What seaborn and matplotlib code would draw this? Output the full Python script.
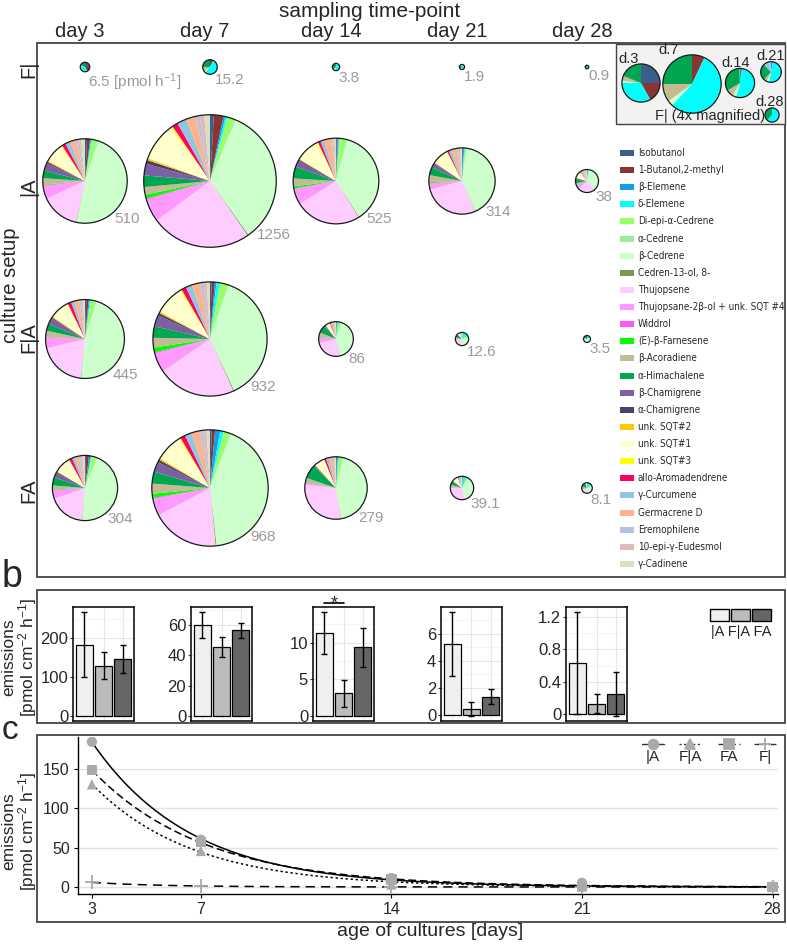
import numpy as np
import pandas as pd
import matplotlib.pyplot as plt
import matplotlib.patches as mpatches
from matplotlib import font_manager as fm
from matplotlib.ticker import FuncFormatter, AutoMinorLocator
import seaborn as sns

# ── DATA ──────────────────────────────────────────────────
days = [3, 7, 14, 21, 28]
setups = ["|A", "F|A", "FA"]
row_names = ["F|", "|A", "F|A", "FA"]

compounds = ["Isobutanol", "1-Butanol,2-methyl", "β-Elemene", "δ-Elemene",
             "Di-epi-α-Cedrene", "α-Cedrene", "β-Cedrene", "Cedren-13-ol, 8-",
             "Thujopsene", "Thujopsane-2β-ol + unk. SQT #4", "Widdrol",
             "(E)-β-Farnesene", "β-Acoradiene", "α-Himachalene", "β-Chamigrene",
             "α-Chamigrene", "unk. SQT#2", "unk. SQT#1", "unk. SQT#3",
             "allo-Aromadendrene", "γ-Curcumene", "Germacrene D", "Eremophilene",
             "10-epi-γ-Eudesmol", "γ-Cadinene"]
compound_colors = ["#3B5E8C", "#8B3434", "#12A0E8", "#00FFFF", "#99FF66",
                   "#99EE99", "#CCFFCC", "#7A9A4C", "#FFCCFF", "#FF99FF",
                   "#FF55FF", "#00FF00", "#C4BA94", "#00A650", "#7E5FA3",
                   "#4F3F6E", "#FFC800", "#FFFFCC", "#FFFF00", "#FF0066",
                   "#92C5DE", "#FFB38A", "#B3C3E3", "#E3B8B8", "#D3E2C0"]

# total emission per culture [pmol h-1] (pie size)
total_F = [6.5, 15.2, 3.8, 1.9, 0.9]
total_A = [510, 1256, 525, 314, 38]
total_FlA = [445, 932, 86, 12.6, 3.5]
total_FA = [304, 968, 279, 39.1, 8.1]

# composition (% of total, legend order), one list per day
comp_F = [
    [25, 17, 0, 33, 0, 0, 2, 0, 0, 0, 0, 0, 4, 19, 0, 0, 0, 0, 0, 0, 0, 0, 0, 0, 0],
    [0, 7, 0, 55, 0, 0, 3, 0, 0, 0, 0, 0, 10, 25, 0, 0, 0, 0, 0, 0, 0, 0, 0, 0, 0],
    [0.5, 1, 1, 52, 0, 0, 4, 0, 0, 0, 0, 0, 8, 33, 0, 0, 0, 0, 0, 0, 0.5, 0, 0, 0, 0],
    [0, 0, 3, 50, 0, 0, 4, 0, 0, 0, 0, 0, 5, 26, 0, 0, 0, 0, 0, 0, 8, 0, 4, 0, 0],
    [0, 0, 0, 62, 0, 0, 0, 0, 0, 0, 0, 0, 0, 38, 0, 0, 0, 0, 0, 0, 0, 0, 0, 0, 0],
]
comp_A = [
    [0.8, 1.2, 0.4, 0.4, 2, 0.5, 49, 0.2, 15, 5, 0.3, 0.3, 2.5, 3, 3, 0.6, 0.5, 7.5, 0.5, 1.5, 2, 2.5, 1, 0.8, 1.5],
    [1, 2.5, 0.5, 0.5, 2, 0.3, 36, 0.3, 26, 6, 0.3, 1, 2, 3, 3, 1, 0.5, 10, 0.5, 1.5, 2.5, 2.5, 1, 1.2, 1.5],
    [0.3, 0.3, 0.5, 0.3, 2.5, 0.5, 37, 0.3, 25, 6, 0.3, 0.8, 3, 4.5, 2.5, 0.5, 0.3, 9, 0.5, 1, 1.5, 3, 0.5, 0.5, 0.5],
    [0.3, 0.3, 0.5, 0.5, 0.5, 0.3, 42, 0.2, 28, 3, 0.2, 0.5, 3.5, 4, 2, 0.5, 0.3, 8, 0.3, 0.8, 1.5, 2.5, 0.8, 1, 1],
    [0.5, 0.5, 0.5, 1, 1, 0.5, 35, 0.3, 25, 5, 0.3, 0.5, 3, 5, 2, 0.5, 0.3, 10, 0.3, 1, 2, 3, 1, 1.5, 2],
]
comp_FlA = [
    [0.5, 1, 0.5, 0.5, 2, 0.5, 48, 0.2, 20, 4.5, 0.2, 0.2, 2.5, 3, 2.5, 0.5, 0.5, 8, 0.3, 1.5, 1.5, 2, 0.8, 0.8, 0.8],
    [0.5, 1, 0.5, 1, 2.5, 0.3, 41, 0.3, 24, 6, 0.3, 1.5, 3, 3.5, 3.5, 0.8, 0.5, 9, 0.5, 1.5, 2, 2.5, 1, 1, 1],
    [0.3, 0.3, 0.5, 1, 3, 0.5, 40, 0.3, 25, 5, 0.3, 0.5, 4, 7, 1, 0.3, 0.3, 4, 0.3, 0.8, 1.5, 2, 0.5, 0.5, 0.5],
    [0, 0.5, 1, 15, 5, 1, 30, 0, 20, 3, 0, 0.5, 3, 8, 1, 0, 0, 8, 0, 1, 1, 2, 0, 0, 0],
    [0, 0, 0, 20, 0, 0, 40, 0, 20, 0, 0, 0, 0, 20, 0, 0, 0, 0, 0, 0, 0, 0, 0, 0, 0],
]
comp_FA = [
    [0.5, 1.5, 1, 0.3, 2.5, 0.3, 45, 0.2, 18, 4, 0.3, 0.3, 2, 4, 2.5, 0.5, 0.3, 8, 0.3, 1.5, 1.5, 2, 1, 1, 1],
    [0.5, 1, 1.5, 1, 2, 0.3, 45, 0.3, 20, 5, 0.3, 1.2, 3, 3.5, 3, 0.8, 0.5, 8, 0.5, 1.5, 2, 2.5, 1, 1, 1],
    [0.2, 0.3, 0.5, 0.5, 2, 0.3, 42, 0.2, 28, 1, 0.2, 0.3, 2, 7, 0.5, 0.2, 0.2, 5, 0.2, 1, 1.5, 2, 0.5, 0.5, 0.5],
    [0, 0.5, 1, 5, 2, 0.5, 38, 0, 28, 2, 0, 0.5, 3, 5, 1, 0, 0, 8, 0, 1, 2, 2, 0.5, 0.5, 0.5],
    [0, 0, 0, 15, 5, 0, 30, 0, 20, 0, 0, 0, 10, 15, 0, 0, 0, 5, 0, 0, 0, 0, 0, 0, 0],
]

# emissions per area [pmol cm-2 h-1]: mean and error
mean_A = [184, 60, 11.3, 5.25, 0.63]
mean_FlA = [130, 45.6, 3.1, 0.45, 0.13]
mean_FA = [148, 56.6, 9.35, 1.37, 0.25]
mean_F = [5.8, 1.2, 0.3, 0.15, 0.07]
err_A = [84, 8.7, 2.85, 2.35, 0.63]
err_FlA = [35, 6.5, 1.85, 0.5, 0.12]
err_FA = [36, 4.8, 2.65, 0.55, 0.27]
bar_yticks = [[0, 100, 200], [0, 20, 40, 60], [0, 5, 10], [0, 2, 4, 6], [0, 0.4, 0.8, 1.2]]

bar_colors = ["#EFEFEF", "#BBBBBB", "#666666"]

# ── STYLE ─────────────────────────────────────────────────
sns.set_theme(style="white")
plt.rcParams["font.family"] = ["Liberation Sans", "DejaVu Sans"]
plt.rcParams["mathtext.default"] = "regular"


def pick_narrow():
    # condensed face for the compound legend, if one is installed
    for fam, st in [("Liberation Sans Narrow", "normal"), ("DejaVu Sans", "condensed")]:
        try:
            path = fm.findfont(fm.FontProperties(family=fam, stretch=st), fallback_to_default=False)
        except Exception:
            continue
        if "Narrow" in path or "Condensed" in path:
            return dict(family=fam, stretch=st), 7.1
    return dict(family=["Liberation Sans", "DejaVu Sans"]), 6.8


narrow, narrow_size = pick_narrow()

W, H = 787, 946
fig = plt.figure(figsize=(W / 100, H / 100), dpi=100)


def rect(l, t, r, b):
    return [l / W, 1 - b / H, (r - l) / W, (b - t) / H]


def Y(y):
    return H - y


ov = fig.add_axes([0, 0, 1, 1], zorder=10)
ov.patch.set_visible(False)


def pie(ax, shares, cx, cy, r):
    ax.pie(shares, colors=compound_colors, center=(cx, Y(cy)), radius=r,
           startangle=90, counterclock=False, frame=True,
           wedgeprops=dict(linewidth=0))
    ax.add_patch(mpatches.Circle((cx, Y(cy)), r, fill=False, ec="#1a1a1a", lw=0.9, zorder=5))


# ── PANEL A: pies ─────────────────────────────────────────
ov.add_patch(mpatches.Rectangle((37, Y(577)), 748, 534, fill=False, ec="#444444", lw=1.3))
ov.text(279, Y(11), "sampling time-point", ha="left", va="center", fontsize=15)

col_x = [85, 210, 336, 462, 587]
row_y = [67, 181, 339, 488]
row_label_y = [69, 187, 338, 491]
r_scale = 1.87

for di, d in enumerate(days):
    ov.text(col_x[di] - 5, Y(31), f"day {d}", ha="center", va="center", fontsize=14.5)
for ri, name in enumerate(row_names):
    ov.text(29, Y(row_label_y[ri]), name, rotation=90, ha="center", va="center", fontsize=14.5)
ov.text(11, Y(285), "culture setup", rotation=90, ha="center", va="center", fontsize=14.5)

rows = [(total_F, comp_F), (total_A, comp_A), (total_FlA, comp_FlA), (total_FA, comp_FA)]
for ri, (tot, comp) in enumerate(rows):
    for di in range(len(days)):
        r = r_scale * np.sqrt(tot[di])
        cx, cy = col_x[di], row_y[ri]
        pie(ov, comp[di], cx, cy, r)
        lab = f"{tot[di]:g}"
        if ri == 0 and di == 0:
            lab += " [pmol h$^{-1}$]"
        ov.text(cx + 0.7 * r, Y(cy + 0.7 * r + 1), lab, ha="left", va="top",
                color="#9A9A9A", fontsize=11)

# inset: F| magnified
ov.add_patch(mpatches.Rectangle((616, Y(124)), 169, 80, fc="#F2F2F2", ec="#444444", lw=1))
inset_x = [641, 692, 740, 771, 772]
inset_y = [83, 84, 83, 72, 115]
for di, d in enumerate(days):
    r = 2 * r_scale * np.sqrt(4 * total_F[di]) / 2 * 2
    pie(ov, comp_F[di], inset_x[di], inset_y[di], r)
    lx = inset_x[di] - r - 4
    if di == len(days) - 1:
        ov.text(784, Y(inset_y[di] - 0.95 * r + 1), f"d.{d}", ha="right", va="bottom", fontsize=10.5)
    else:
        ov.text(lx, Y(inset_y[di] - 0.95 * r + 1), f"d.{d}", ha="left", va="bottom", fontsize=10.5)
ov.text(710, Y(116), "F| (4x magnified)", ha="center", va="center", fontsize=10.5)

# compound legend
for i, (name, col) in enumerate(zip(compounds, compound_colors)):
    yc = 153 + i * 17.12
    ov.add_patch(mpatches.Rectangle((620, Y(yc + 3)), 14, 6, color=col, lw=0))
    ov.text(638, Y(yc), name, ha="left", va="center", fontsize=narrow_size, **narrow)

# ── PANEL B: bars ─────────────────────────────────────────
ov.add_patch(mpatches.Rectangle((37, Y(723)), 748, 133, fill=False, ec="#444444", lw=1.3))
ov.text(2, Y(587), "b", ha="left", va="baseline", fontsize=27)
ov.text(20, Y(657), "emissions\n[pmol cm$^{-2}$ h$^{-1}$]", rotation=90,
        ha="center", va="center", fontsize=12.5, linespacing=0.95)

df_b = pd.DataFrame({
    "day": np.repeat(days, 3),
    "setup": setups * len(days),
    "mean": np.ravel(np.column_stack([mean_A, mean_FlA, mean_FA])),
    "err": np.ravel(np.column_stack([err_A, err_FlA, err_FA])),
})
sub_left = [73, 191, 313, 441, 566]
for di, d in enumerate(days):
    ax = fig.add_axes(rect(sub_left[di], 607, sub_left[di] + 61, 721))
    sub = df_b[df_b["day"] == d]
    sns.barplot(data=sub, x="setup", y="mean", hue="setup", order=setups,
                palette=bar_colors, width=0.9, edgecolor="black", linewidth=0.9,
                legend=False, errorbar=None, ax=ax, zorder=2)
    ax.errorbar(range(3), sub["mean"], yerr=sub["err"], fmt="none", ecolor="black",
                elinewidth=1, capsize=2.5, capthick=1, zorder=3)
    lo = min(0, (sub["mean"] - sub["err"]).min())
    hi = (sub["mean"] + sub["err"]).max()
    pad = 0.05 * (hi - lo)
    ax.set_ylim(lo - pad, hi + pad)
    ax.set_xlim(-0.6, 2.6)
    ax.set_yticks(bar_yticks[di])
    ax.yaxis.set_minor_locator(AutoMinorLocator(2))
    ax.yaxis.set_major_formatter(FuncFormatter(lambda v, p: f"{v:g}"))
    ax.grid(True, which="major", color="#E6E6E6", lw=0.8)
    ax.grid(True, which="minor", axis="y", color="#F3F3F3", lw=0.6)
    ax.set_axisbelow(True)
    ax.set_xlabel("")
    ax.set_ylabel("")
    ax.set_xticklabels([])
    ax.tick_params(axis="x", length=0)
    ax.tick_params(axis="y", which="major", left=True, length=2.5, width=0.8,
                   color="#333333", pad=1, labelsize=12)
    ax.tick_params(axis="y", which="minor", left=False)
    for s in ax.spines.values():
        s.set_color("black")
        s.set_linewidth(1.1)
    if d == 14:
        top = hi + pad
        ax.plot([0, 1], [top * 1.035, top * 1.035], color="black", lw=1.2, clip_on=False)
        ax.text(0.5, top * 0.99, "*", ha="center", va="baseline", fontsize=13)

# bar legend
leg_x = [710, 731, 752]
for i, s in enumerate(setups):
    ov.add_patch(mpatches.Rectangle((leg_x[i], Y(621)), 19, 12, fc=bar_colors[i], ec="black", lw=1))
ov.text(741, Y(632), "|A F|A FA", ha="center", va="center", fontsize=10.5)

# ── PANEL C: time course ──────────────────────────────────
ov.add_patch(mpatches.Rectangle((37, Y(922)), 748, 187, fill=False, ec="#444444", lw=1.3))
ov.text(2, Y(739), "c", ha="left", va="baseline", fontsize=24)
ov.text(20, Y(831), "emissions\n[pmol cm$^{-2}$ h$^{-1}$]", rotation=90,
        ha="center", va="center", fontsize=12.5, linespacing=0.95)
ov.text(430, Y(931), "age of cultures [days]", ha="center", va="center", fontsize=14)

axc = fig.add_axes(rect(78, 737, 778, 894))
line_styles = {"|A": "-", "F|A": (0, (1.5, 1.8)), "FA": (0, (5, 2.5)), "F|": (0, (6, 4))}
markers = {"|A": "o", "F|A": "^", "FA": "s", "F|": "+"}
series = {"|A": mean_A, "F|A": mean_FlA, "FA": mean_FA, "F|": mean_F}


def exp_fit(x, y):
    x = np.asarray(x, float)
    y = np.asarray(y, float)
    best = None
    for k in np.linspace(0.01, 1.5, 1500):
        e = np.exp(-k * x)
        a = (y @ e) / (e @ e)
        sse = ((y - a * e) ** 2).sum()
        if best is None or sse < best[0]:
            best = (sse, a, k)
    return best[1], best[2]


t = np.linspace(3, 28, 300)
for name, vals in series.items():
    a, k = exp_fit(days, vals)
    axc.plot(t, a * np.exp(-k * t), color="black", lw=1.1, ls=line_styles[name], zorder=2)

df_c = pd.DataFrame({"day": days * 4,
                     "emission": mean_A + mean_FlA + mean_FA + mean_F,
                     "setup": np.repeat(list(series.keys()), len(days))})
filled = df_c[df_c["setup"] != "F|"]
sns.scatterplot(data=filled, x="day", y="emission", style="setup",
                markers={k: markers[k] for k in setups}, color="#AAAAAA", s=55,
                edgecolor="none", legend=False, ax=axc, zorder=3)
sns.scatterplot(data=df_c[df_c["setup"] == "F|"], x="day", y="emission", marker="+",
                color="#AAAAAA", s=90, linewidth=1.3, legend=False, ax=axc, zorder=3)

axc.set_xlim(2.49, 28.2)
axc.set_ylim(-8.9, 190)
axc.set_xticks(days)
axc.set_yticks([0, 50, 100, 150])
axc.grid(axis="y", color="#E3E3E3", lw=1)
axc.set_axisbelow(True)
axc.set_xlabel("")
axc.set_ylabel("")
for s in ["top", "right"]:
    axc.spines[s].set_visible(False)
for s in ["left", "bottom"]:
    axc.spines[s].set_color("black")
    axc.spines[s].set_linewidth(1)
axc.tick_params(left=True, bottom=True, length=3, width=0.8, color="black",
                labelsize=11.5, pad=3)

# line legend
leg_cx = [653, 690, 729, 765]
for i, name in enumerate(series):
    ov.plot([leg_cx[i] - 11, leg_cx[i] + 11], [Y(744), Y(744)], color="#333333",
            lw=1, ls=line_styles[name])
    ov.plot([leg_cx[i]], [Y(744)], marker=markers[name], color="#AAAAAA",
            ms=7 if name != "F|" else 9, mew=1.3, ls="none")
    ov.text(leg_cx[i], Y(757), name, ha="center", va="center", fontsize=11)

ov.set_xlim(0, W)
ov.set_ylim(0, H)
ov.axis("off")

fig.savefig("out.png", dpi=100)
